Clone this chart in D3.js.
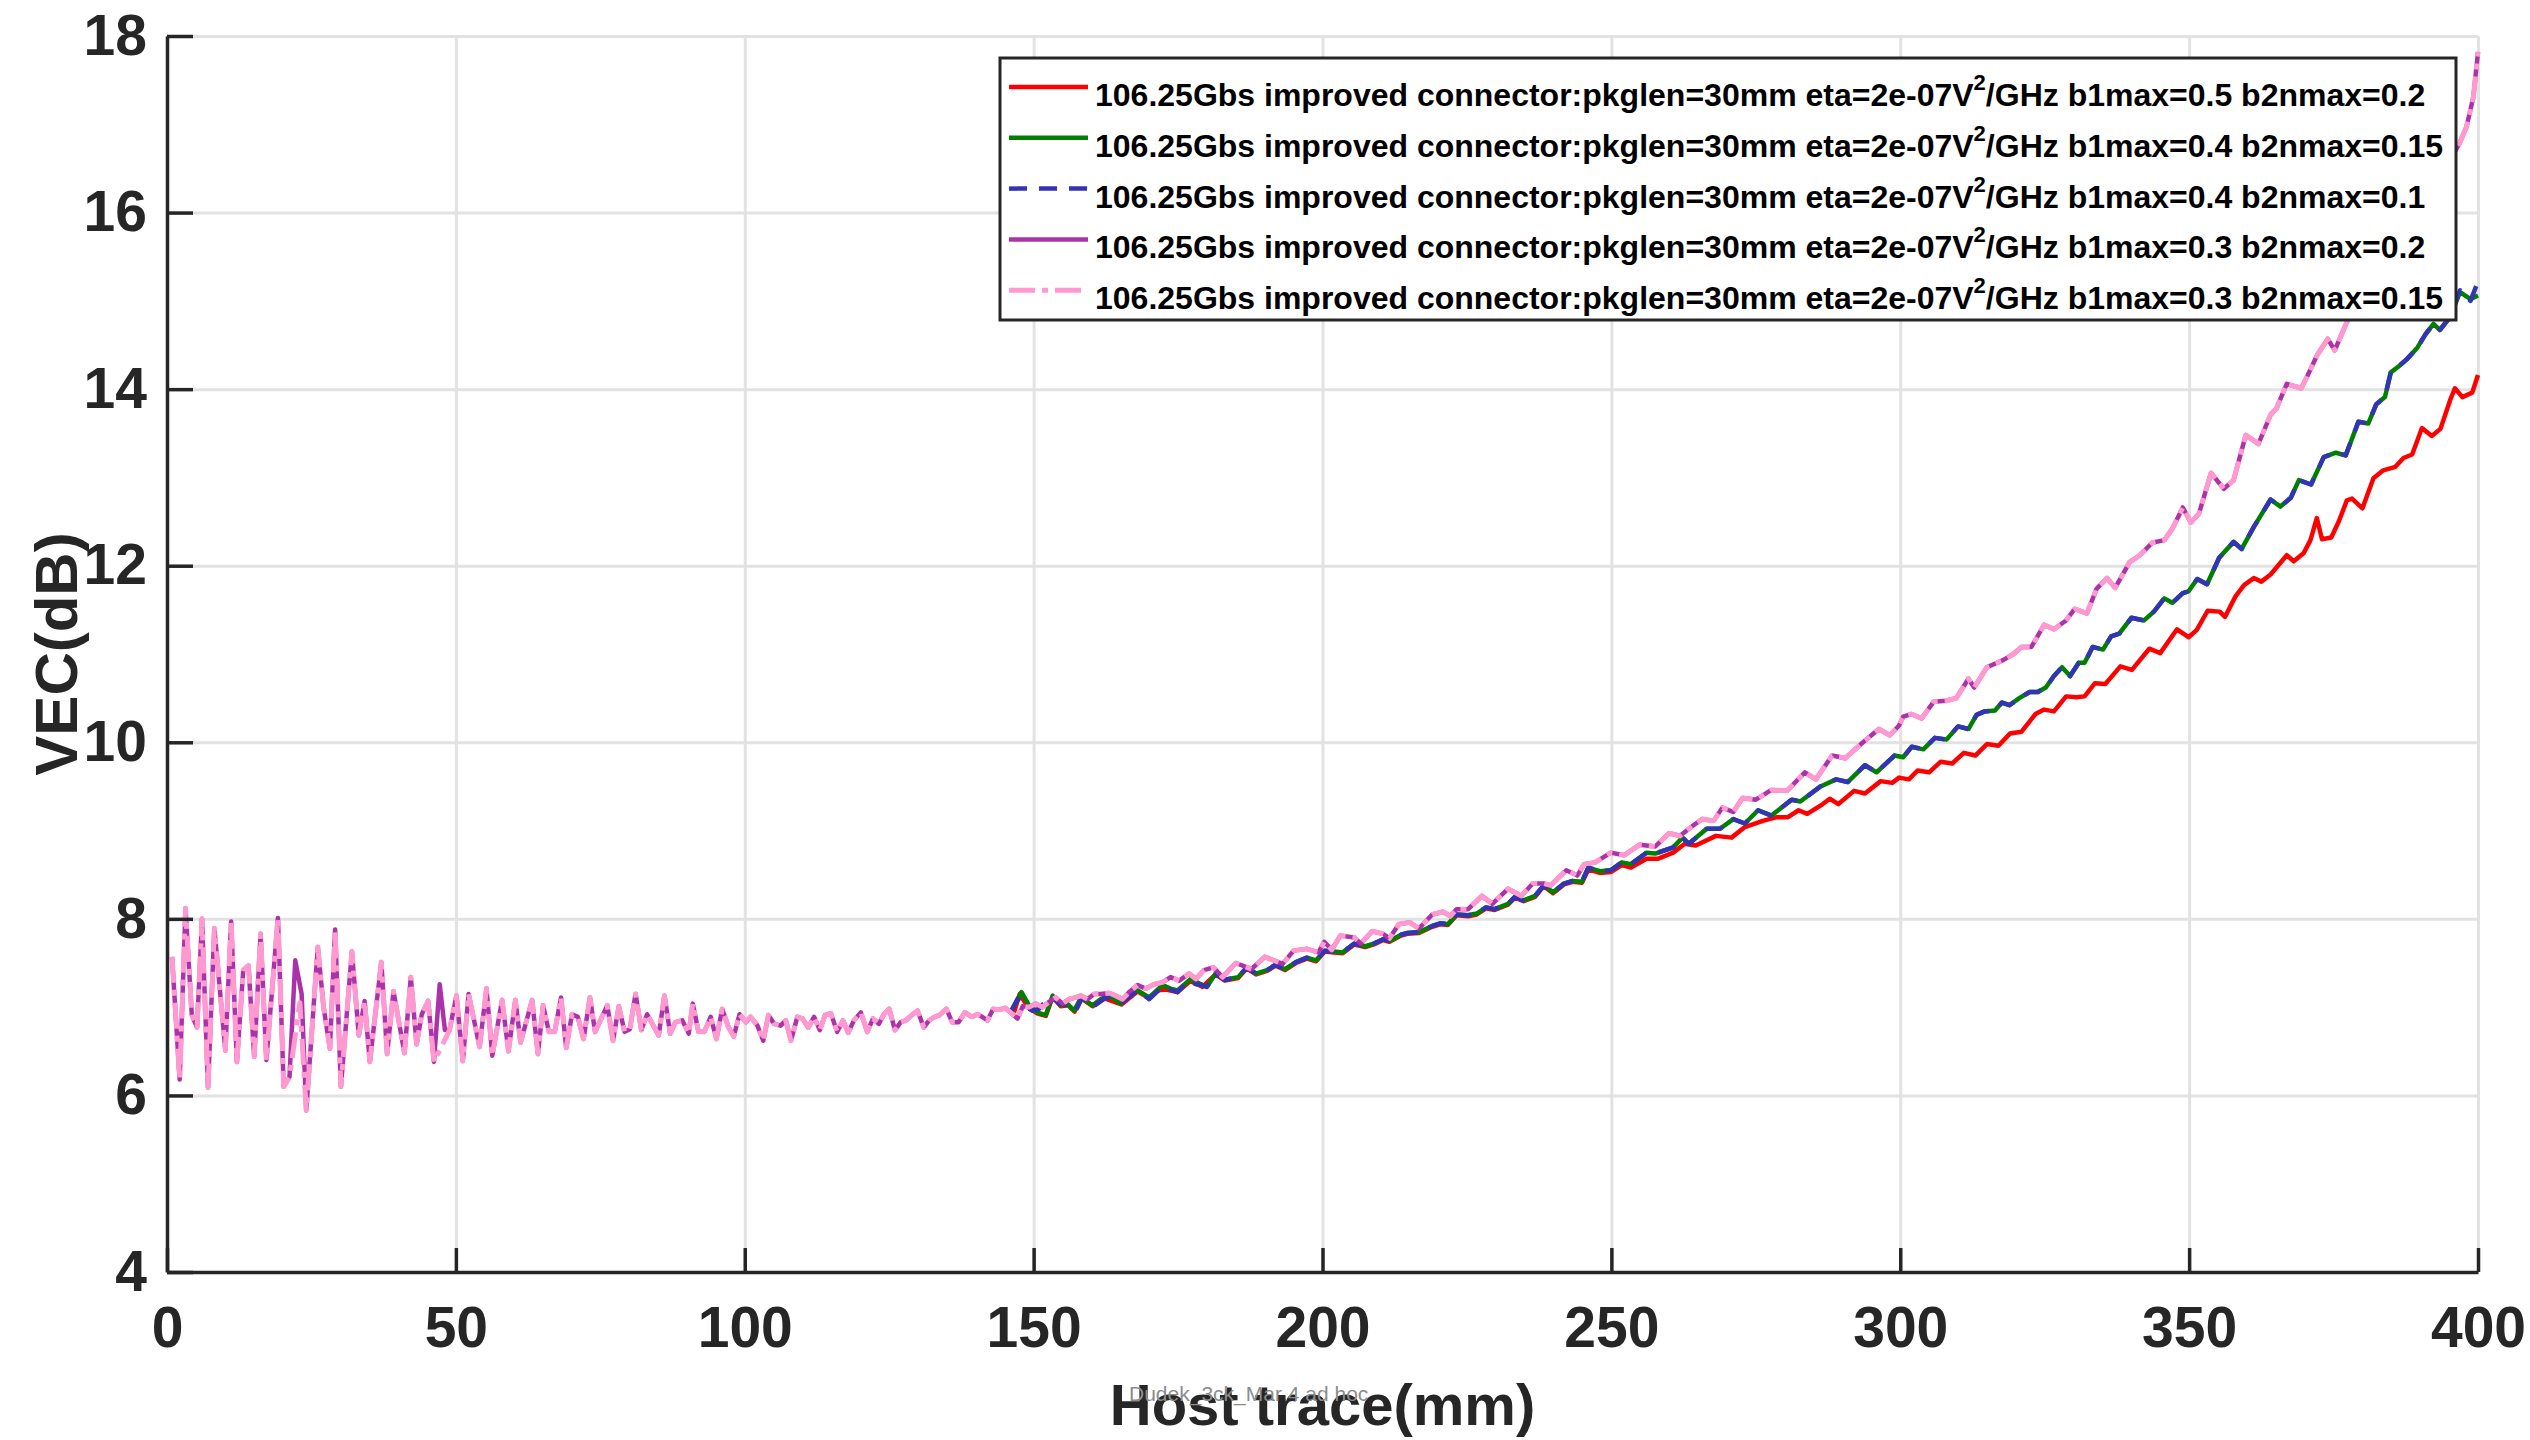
<!DOCTYPE html>
<html>
<head>
<meta charset="utf-8">
<script src="https://cdn.jsdelivr.net/npm/d3@7"></script>
<style>
  body { margin: 0; background: #fff; }
  text { font-family: "Liberation Sans", Arial, sans-serif; }
</style>
</head>
<body>
<script>
var w = 2530;
var h = 1440;
var margin = {left: 167, right: 52, top: 36, bottom: 168};

// tick values
var xTicks = [0, 50, 100, 150, 200, 250, 300, 350, 400];
var yTicks = [4, 6, 8, 10, 12, 14, 16, 18];

// legend text (eta value has a superscript 2)
var legendPre = "106.25Gbs improved connector:pkglen=30mm eta=2e-07V";
var legendPost = [
  "/GHz b1max=0.5 b2nmax=0.2",
  "/GHz b1max=0.4 b2nmax=0.15",
  "/GHz b1max=0.4 b2nmax=0.1",
  "/GHz b1max=0.3 b2nmax=0.2",
  "/GHz b1max=0.3 b2nmax=0.15"
];

// common oscillating start (host trace mm, VEC dB)
var headA = [[0.87,7.57],[2.2,6.18],[3.2,8.12],[4.3,6.91],[5.2,6.77],[6.06,8.0],[7.1,6.09],[8.2,7.89],
  [10.1,6.51],[11.1,7.97],[12.1,6.38],[13.2,7.42],[14.1,7.47],[15.1,6.44],[16.2,7.83],[17.2,6.40],
  [19.2,8.01],[20.2,6.10],[21.2,6.21]];
var headB = [[24.1,5.83],[26.1,7.68],[27.1,7.0],[28.2,6.53],[29.1,7.88],[30.1,6.10],[32.0,7.63],[33.2,6.68],
  [34.2,7.07],[35.1,6.38],[37.1,7.51],[38.1,6.47],[39.2,7.18],[41.1,6.48],[42.2,7.34],[43.2,6.58],
  [44.1,6.92],[45.2,7.07],[46.2,6.38]];
var headC = [[48.9,6.74],[50.1,7.13],[51.2,6.39],[52.2,7.15],[54.1,6.55],[55.3,7.21],[56.3,6.45],[58.0,7.08],
  [59.1,6.50],[60.3,7.08],[61.2,6.60],[63.2,7.08],[64.2,6.47],[65.1,7.02],[66.1,6.72],[67.1,6.72],
  [68.2,7.11],[69.1,6.54],[70.1,6.92],[71.1,6.89],[72.1,6.64],[73.2,7.11],[74.1,6.72],[76.2,7.02],
  [77.2,6.62],[78.2,7.01],[79.2,6.72],[80.1,6.75],[81.1,7.15],[82.1,6.74],[83.1,6.92],[85.1,6.68],
  [86.1,7.13],[87.1,6.70],[88.0,6.83],[89.2,6.85],[90.3,6.70],[91.0,7.04],[92.0,6.72],[93.0,6.72],
  [94.1,6.89],[95.1,6.64],[96.1,6.98],[97.2,6.77],[98.1,6.67],[99.1,6.92],[100.2,6.83],[101.0,6.89],
  [102.2,6.79],[103.2,6.62],[104.1,6.91],[105.1,6.81],[106.2,6.79],[107.1,6.85],[108.0,6.62],[109.1,6.89],
  [110.0,6.87],[111.0,6.77],[112.0,6.89],[113.0,6.74],[113.9,6.91],[114.9,6.93],[116.0,6.72],[117.0,6.85],
  [117.9,6.71],[118.9,6.85],[120.1,6.94],[121.2,6.72],[122.2,6.87],[123.2,6.81],[124.1,6.92],[125.0,6.98],
  [126.0,6.74],[127.0,6.83],[127.9,6.85],[128.9,6.91],[129.9,6.96],[131.0,6.77],[131.9,6.85],[132.9,6.89],
  [133.7,6.91],[134.9,6.98],[135.9,6.83],[137.0,6.83],[138.1,6.94],[139.3,6.89],[140.3,6.92],[141.1,6.89],
  [142.0,6.85],[143.0,6.98],[144.0,6.97],[145.1,6.99],[146.0,6.94]];

// where purple (b1max=0.3 b2nmax=0.2) and pink differ in the start
var purpleBitA = [[22.2,7.53],[23.3,7.15]];
var purpleBitB = [[47.2,7.26],[48.1,6.74]];
var pinkBitA = [[23.0,7.05]];

// b1max=0.3 tail (pink and purple)
var pinkTail = [[147.2,6.87],[148.1,7.01],[149.2,7.00],[150.4,7.04],[151.5,7.00],[152.7,7.06],[153.8,7.11],
  [155.0,7.04],[156.1,7.09],[157.3,7.11],[158.2,7.13],[159.3,7.09],[160.5,7.15],[161.6,7.15],[163.1,7.16],
  [164.2,7.13],[165.4,7.09],[166.5,7.17],[168.0,7.25],[169.4,7.21],[170.9,7.26],[172.3,7.28],[173.7,7.34],
  [175.2,7.30],[176.9,7.38],[178.1,7.32],[179.5,7.42],[181.1,7.45],[182.7,7.34],[185.0,7.50],[187.7,7.43],
  [190.0,7.57],[193.1,7.49],[195.0,7.64],[197.3,7.66],[199.3,7.62],[200.3,7.74],[201.6,7.65],[203.1,7.81],
  [205.5,7.79],[206.6,7.72],[208.6,7.86],[210.5,7.83],[211.6,7.78],[213.2,7.94],[215.1,7.96],[216.7,7.89],
  [219.0,8.05],[220.9,8.08],[222.1,8.03],[223.2,8.11],[225.2,8.11],[227.6,8.26],[229.4,8.17],[232.1,8.34],
  [234.4,8.26],[236.4,8.40],[238.3,8.40],[239.5,8.38],[242.2,8.55],[244.1,8.49],[245.3,8.62],[247.2,8.64],
  [249.9,8.75],[252.2,8.72],[254.9,8.84],[257.6,8.82],[260.0,8.97],[261.9,8.94],[263.8,9.04],[265.7,9.13],
  [267.7,9.11],[269.2,9.26],[271.1,9.21],[272.7,9.37],[275.0,9.35],[277.7,9.46],[280.4,9.45],[283.5,9.66],
  [285.4,9.58],[288.2,9.85],[290.5,9.82],[293.2,9.98],[296.3,10.15],[298.2,10.08],[299.8,10.19],[300.5,10.29],
  [301.9,10.32],[303.7,10.27],[305.8,10.46],[307.9,10.47],[309.7,10.50],[311.8,10.72],[312.8,10.62],[315.0,10.85],
  [317.8,10.93],[319.6,11.00],[321.0,11.08],[322.7,11.08],[324.9,11.33],[326.6,11.28],[328.7,11.38],[330.2,11.51],
  [332.3,11.46],[334.0,11.74],[335.8,11.86],[337.2,11.75],[339.7,12.04],[341.5,12.12],[343.6,12.26],[345.7,12.29],
  [347.1,12.42],[348.9,12.66],[350.3,12.49],[351.7,12.59],[353.8,13.05],[356.0,12.87],[357.7,12.97],[359.8,13.48],
  [362.0,13.38],[364.1,13.71],[365.1,13.78],[366.9,14.06],[369.4,14.01],[370.4,14.14],[372.2,14.39],[374.0,14.57],
  [375.2,14.44],[377.3,14.76],[380.0,15.0],[383.0,15.25],[386.0,15.55],[389.0,15.85],[392.0,16.2],[394.5,16.5],
  [396.9,16.80],[398.0,16.97],[399.2,17.31],[400.0,17.82]];

// b1max=0.4 curves: own starts, shared middle, own ends
var greenStart = [[146.0,6.94],[147.9,7.17],[149.2,7.02],[150.6,6.94],[152.1,6.91],[153.3,7.13],[154.7,7.02],
  [155.8,7.04],[157.0,6.96],[158.2,7.11],[159.3,7.06],[160.2,7.02],[161.6,7.09],[163.1,7.13],[165.1,7.04],
  [166.5,7.13],[168.0,7.19],[170.0,7.11],[172.3,7.25],[173.7,7.21],[174.9,7.19],[177.2,7.32],[179.2,7.25]];
var blueStart = [[146.0,6.94],[147.2,7.09],[148.6,7.00],[149.8,6.96],[150.9,6.98],[153.0,7.13],[154.4,7.04],
  [156.1,7.02],[157.3,6.96],[158.4,7.11],[160.2,7.00],[162.5,7.11],[165.4,7.06],[168.0,7.19],[170.0,7.09],
  [172.3,7.23],[174.9,7.17],[176.9,7.30],[178.1,7.26],[179.2,7.25]];
var midB1_04 = [[180.0,7.23],[181.5,7.38],[183.1,7.31],[185.4,7.34],[186.9,7.45],[188.5,7.38],[190.4,7.42],
  [191.9,7.48],[193.5,7.43],[195.4,7.51],[197.3,7.56],[198.9,7.53],[200.4,7.64],[202.0,7.63],[203.5,7.62],
  [205.5,7.72],[207.4,7.69],[208.9,7.72],[210.5,7.77],[211.6,7.75],[213.6,7.82],[214.7,7.84],[216.7,7.85],
  [219.0,7.92],[220.5,7.95],[221.7,7.94],[223.2,8.05],[225.2,8.04],[226.7,8.06],[228.3,8.13],[229.8,8.11],
  [232.1,8.17],[233.3,8.25],[234.8,8.21],[236.8,8.26],[238.3,8.38],[239.9,8.30],[241.8,8.40],[243.3,8.43],
  [244.9,8.42],[246.0,8.58],[248.0,8.54],[249.9,8.55],[251.8,8.64],[253.4,8.62],[256.1,8.75],[257.6,8.74],
  [260.7,8.81],[262.3,8.92],[263.4,8.85],[266.5,9.02],[268.8,9.02],[271.1,9.13],[273.1,9.08],[275.4,9.23],
  [277.7,9.17],[281.2,9.35],[282.7,9.33],[286.2,9.50],[288.9,9.58],[290.9,9.55],[293.9,9.74],[295.9,9.66],
  [299.0,9.85],[300.5,9.83],[302.0,9.95],[304.0,9.92],[306.0,10.05],[308.0,10.03],[310.0,10.18],[311.8,10.15],
  [313.2,10.31],[314.6,10.35],[316.4,10.36],[317.6,10.45],[318.9,10.42],[320.6,10.50],[322.4,10.57],[323.8,10.57],
  [325.2,10.62],[326.6,10.75],[328.0,10.85],[329.4,10.75],[330.9,10.90],[331.9,10.90],[333.3,11.08],[335.1,11.05],
  [336.5,11.20],[337.9,11.23],[340.0,11.41],[342.2,11.38],[343.9,11.48],[345.7,11.63],[347.1,11.58],[348.9,11.69],
  [349.9,11.71],[351.4,11.85],[353.1,11.79],[355.2,12.09],[357.7,12.27],[359.1,12.19],[361.2,12.44],[364.1,12.75],
  [365.8,12.67],[367.6,12.77],[369.0,12.97],[371.1,12.92],[373.3,13.23],[375.4,13.28],[377.1,13.25],[379.3,13.63],
  [381.0,13.61],[382.4,13.83],[383.9,13.91],[384.9,14.19],[386.3,14.26],[387.7,14.34],[389.5,14.47],[390.9,14.62],
  [392.3,14.74],[393.4,14.67],[395.2,14.82]];
var greenEnd = [[396.9,15.10],[398.7,15.02],[400.0,15.06]];
var blueEnd = [[396.9,15.12],[398.7,15.00],[400.0,15.22]];

// b1max=0.5 tail (red)
var redTail = [[146.6,6.94],[147.6,7.15],[149.0,7.00],[150.6,6.93],[152.1,6.90],[153.3,7.12],[154.7,7.01],
  [156.0,7.02],[157.1,6.95],[158.3,7.10],[160.2,7.01],[162.3,7.10],[165.2,7.03],[168.0,7.18],[170.0,7.10],
  [171.5,7.19],[172.9,7.20],[174.9,7.17],[177.2,7.30],[179.2,7.23],[181.5,7.37],[183.1,7.30],[185.4,7.33],
  [186.9,7.44],[188.5,7.37],[190.4,7.41],[191.9,7.47],[193.5,7.42],[195.4,7.50],[197.3,7.55],[198.9,7.52],
  [200.4,7.63],[202.0,7.62],[203.5,7.61],[205.5,7.71],[207.4,7.68],[208.9,7.71],[210.5,7.76],[211.6,7.74],
  [213.6,7.81],[214.7,7.83],[216.7,7.84],[219.0,7.91],[220.5,7.94],[221.7,7.93],[223.2,8.04],[225.2,8.03],
  [226.7,8.05],[228.3,8.12],[229.8,8.10],[232.1,8.16],[233.3,8.24],[234.8,8.20],[236.8,8.25],[238.3,8.37],
  [239.9,8.29],[241.8,8.39],[243.3,8.42],[244.9,8.41],[246.0,8.56],[248.0,8.52],[249.9,8.53],[251.8,8.61],
  [253.4,8.58],[256.1,8.68],[258.0,8.68],[260.7,8.75],[262.7,8.85],[264.6,8.83],[268.1,8.94],[270.8,8.92],
  [273.1,9.04],[276.2,9.11],[278.5,9.15],[280.5,9.15],[282.4,9.23],[283.9,9.19],[286.6,9.30],[287.8,9.36],
  [289.3,9.30],[292.0,9.45],[293.9,9.42],[296.6,9.56],[298.6,9.54],[299.8,9.60],[301.5,9.58],[303.0,9.68],
  [305.0,9.66],[307.0,9.78],[309.0,9.76],[311.0,9.88],[313.0,9.85],[315.0,9.98],[317.0,9.96],[319.0,10.10],
  [321.0,10.12],[323.4,10.32],[324.9,10.37],[326.6,10.35],[328.7,10.52],[330.5,10.51],[331.9,10.52],[333.7,10.67],
  [335.5,10.66],[338.1,10.86],[340.1,10.82],[343.1,11.06],[345.0,11.01],[347.9,11.28],[349.9,11.19],[351.3,11.27],
  [353.2,11.49],[355.3,11.48],[356.2,11.42],[358.0,11.65],[359.5,11.78],[361.2,11.86],[362.5,11.82],[364.1,11.90],
  [366.9,12.12],[368.1,12.05],[369.8,12.14],[371.0,12.29],[372.1,12.54],[373.0,12.30],[374.6,12.32],[375.9,12.50],
  [377.3,12.74],[378.2,12.76],[380.0,12.65],[381.9,12.99],[383.6,13.08],[385.7,13.12],[387.1,13.22],[388.6,13.26],
  [390.3,13.56],[392.0,13.47],[393.5,13.55],[395.2,13.88],[396.0,14.01],[397.3,13.91],[399.0,13.96],[400.0,14.16]];

// series in drawing order
var series = [
  {pts: redTail, color: "#ff0000", dash: null, width: 4.5},
  {pts: greenStart.concat(midB1_04, greenEnd), color: "#008000", dash: null, width: 4.5},
  {pts: blueStart.concat(midB1_04, blueEnd), color: "#3333b5", dash: "18,12", width: 4.5},
  {pts: headA.concat(purpleBitA, headB, purpleBitB, headC, pinkTail), color: "#aa33aa", dash: null, width: 4.5},
  {pts: headA.concat(pinkBitA, headB, headC, pinkTail), color: "#ff99d0", dash: "26,7,6,7", width: 5}
];

var svg = d3.select("body")
            .append("svg")
            .attr("width", w)
            .attr("height", h);

svg.append("rect").attr("width", w).attr("height", h).attr("fill", "#fff");

var xScale = d3.scaleLinear()
               .domain([0, 400])
               .range([margin.left, w - margin.right]);

var yScale = d3.scaleLinear()
               .domain([4, 18])
               .range([h - margin.bottom, margin.top]);

var plotW = w - margin.right - margin.left;
var plotH = h - margin.bottom - margin.top;

// grid
svg.append("g")
   .attr("class", "grid")
   .attr("transform", "translate(0," + (h - margin.bottom) + ")")
   .call(d3.axisBottom(xScale).tickValues(xTicks).tickSize(-plotH).tickFormat(""));
svg.append("g")
   .attr("class", "grid")
   .attr("transform", "translate(" + margin.left + ",0)")
   .call(d3.axisLeft(yScale).tickValues(yTicks).tickSize(-plotW).tickFormat(""));
svg.selectAll(".grid .domain").remove();
svg.selectAll(".grid line").attr("stroke", "#e2e2e2").attr("stroke-width", 3);

// lines
var line = d3.line()
             .x(function(d) { return xScale(d[0]); })
             .y(function(d) { return yScale(d[1]); });

svg.selectAll(".series")
   .data(series)
   .enter()
   .append("path")
   .attr("class", "series")
   .attr("d", function(d) { return line(d.pts); })
   .attr("fill", "none")
   .attr("stroke", function(d) { return d.color; })
   .attr("stroke-width", function(d) { return d.width; })
   .attr("stroke-dasharray", function(d) { return d.dash; })
   .attr("stroke-linejoin", "round");

// axes
var xAxis = d3.axisBottom(xScale).tickValues(xTicks).tickSizeInner(-24).tickSizeOuter(0).tickPadding(35);
var yAxis = d3.axisLeft(yScale).tickValues(yTicks).tickSizeInner(-26).tickSizeOuter(0).tickPadding(20);

var gx = svg.append("g")
            .attr("transform", "translate(0," + (h - margin.bottom) + ")")
            .call(xAxis);
var gy = svg.append("g")
            .attr("transform", "translate(" + margin.left + ",0)")
            .call(yAxis);

[gx, gy].forEach(function(g) {
  g.select(".domain").attr("stroke", "#262626").attr("stroke-width", 3.5);
  g.selectAll(".tick line").attr("stroke", "#262626").attr("stroke-width", 3.5);
  g.selectAll(".tick text")
   .attr("fill", "#262626")
   .style("font-size", "57px")
   .style("font-weight", "bold");
});

// axis titles
svg.append("text")
   .attr("x", (margin.left + w - margin.right) / 2)
   .attr("y", 1425)
   .attr("text-anchor", "middle")
   .attr("fill", "#262626")
   .style("font-size", "58px")
   .style("font-weight", "bold")
   .text("Host trace(mm)");

svg.append("text")
   .attr("transform", "translate(77," + (margin.top + plotH / 2) + ") rotate(-90)")
   .attr("text-anchor", "middle")
   .attr("fill", "#262626")
   .style("font-size", "60px")
   .style("font-weight", "bold")
   .text("VEC(dB)");

// small stamp under the x axis
svg.append("text")
   .attr("x", 1129)
   .attr("y", 1401)
   .attr("fill", "#8c8c8c")
   .style("font-size", "21px")
   .text("Dudek_3ck_Mar 4 ad hoc");

// legend
var legend = svg.append("g").attr("transform", "translate(1000,58)");
legend.append("rect")
      .attr("width", 1456)
      .attr("height", 262)
      .attr("fill", "#fff")
      .attr("stroke", "#262626")
      .attr("stroke-width", 3);

var rows = legend.selectAll(".row")
                 .data(series)
                 .enter()
                 .append("g")
                 .attr("class", "row")
                 .attr("transform", function(d, i) { return "translate(0," + (29 + i * 50.8) + ")"; });

rows.append("line")
    .attr("x1", 9).attr("x2", 88)
    .attr("stroke", function(d) { return d.color; })
    .attr("stroke-width", function(d) { return d.width; })
    .attr("stroke-dasharray", function(d) { return d.dash; });

var lt = rows.append("text")
             .attr("x", 95)
             .attr("y", 19)
             .attr("fill", "#000")
             .style("font-size", "32px")
             .style("font-weight", "bold");
lt.append("tspan").text(legendPre);
lt.append("tspan").attr("dy", -16).style("font-size", "22px").text("2");
lt.append("tspan").attr("dy", 16).text(function(d, i) { return legendPost[i]; });
</script>
</body>
</html>
